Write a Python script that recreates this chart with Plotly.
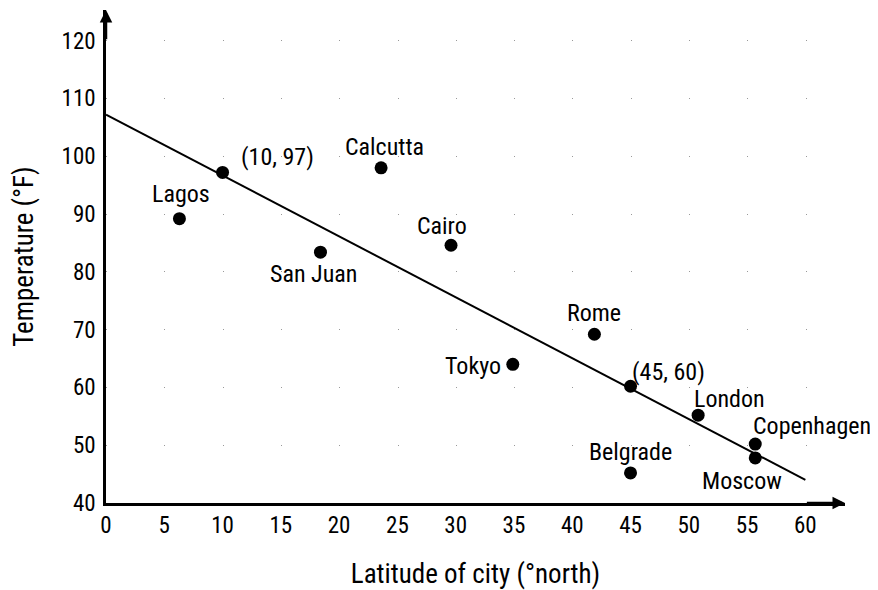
import plotly.graph_objects as go

cities = ["(10, 97)", "Lagos", "Calcutta", "San Juan", "Cairo", "Rome", "Tokyo",
          "(45, 60)", "London", "Copenhagen", "Belgrade", "Moscow"]
latitude = [10, 6.3, 23.6, 18.4, 29.6, 41.9, 34.9, 45, 50.8, 55.7, 45, 55.7]
temperature = [97.2, 89.2, 98.0, 83.4, 84.6, 69.2, 64.0, 60.2, 55.2, 50.2, 45.2, 47.8]

line_x = [0, 60]
line_y = [107.2, 44.0]

x_ticks = list(range(0, 61, 5))
y_ticks = list(range(40, 121, 10))

# label offsets in pixels (dx right, dy up)
label_offsets = {
    "(10, 97)": (55, 15), "Lagos": (2, 25), "Calcutta": (3, 21), "San Juan": (-7, -22),
    "Cairo": (-9, 19), "Rome": (0, 21), "Tokyo": (-40, -2), "(45, 60)": (38, 14),
    "London": (31, 16), "Copenhagen": (57, 18), "Belgrade": (0, 21), "Moscow": (-13, -23),
}

FONT = "Roboto Condensed, Roboto, sans-serif"
LABEL_FS = 24
TICK_FS = 23
TITLE_FS = 27

fig = go.Figure()
fig.add_trace(go.Scatter(x=line_x, y=line_y, mode="lines",
                         line=dict(color="black", width=2), hoverinfo="skip"))
fig.add_trace(go.Scatter(x=latitude, y=temperature, mode="markers",
                         marker=dict(color="black", size=13), text=cities))

for name, x, y in zip(cities, latitude, temperature):
    dx, dy = label_offsets[name]
    fig.add_annotation(x=x, y=y, text=name, showarrow=False, xshift=dx, yshift=dy,
                       font=dict(family=FONT, size=LABEL_FS, color="black"))

# axis arrowheads
fig.add_annotation(x=63.4, y=40, ax=60, ay=40, xref="x", yref="y", axref="x", ayref="y",
                   showarrow=True, arrowhead=2, arrowsize=1, arrowwidth=2.5, arrowcolor="black",
                   text="")
fig.add_annotation(x=0, y=125.3, ax=0, ay=120, xref="x", yref="y", axref="x", ayref="y",
                   showarrow=True, arrowhead=2, arrowsize=1, arrowwidth=2.5, arrowcolor="black",
                   text="")

# page body has an 8px default margin, so the figure is sized to fit the window
fig.update_layout(
    width=870, height=582,
    margin=dict(l=98, r=33, t=2, b=87),
    paper_bgcolor="white", plot_bgcolor="white",
    showlegend=False,
    font=dict(family=FONT, size=TICK_FS, color="black"),
)
fig.update_xaxes(range=[0, 63.4], tickvals=x_ticks, showgrid=False, zeroline=False,
                 automargin=False,
                 showline=True, linecolor="black", linewidth=2.5, ticks="",
                 tickfont=dict(family=FONT, size=TICK_FS, color="black"),
                 title=dict(text="Latitude of city (°north)", standoff=32,
                            font=dict(family=FONT, size=TITLE_FS, color="black")))
fig.update_yaxes(range=[40, 125.3], tickvals=y_ticks, zeroline=False,
                 automargin=False,
                 showgrid=True, gridcolor="#999999", gridwidth=1, griddash="1px,57.3px",
                 showline=True, linecolor="black", linewidth=2.5,
                 ticks="outside", ticklen=3, tickcolor="rgba(0,0,0,0)",
                 tickfont=dict(family=FONT, size=TICK_FS, color="black"),
                 title=dict(text="Temperature (°F)", standoff=22,
                            font=dict(family=FONT, size=TITLE_FS, color="black")))

fig.write_html("out.html")
